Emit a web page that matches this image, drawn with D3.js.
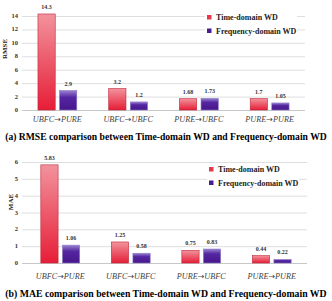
<!DOCTYPE html>
<html>
<head>
<meta charset="utf-8">
<script src="https://cdn.jsdelivr.net/npm/d3@7"></script>
<style>
  body { margin: 0; background: #fff; }
  svg { display: block; }
  text { font-family: "Liberation Serif", "DejaVu Serif", serif; }
</style>
</head>
<body>
<svg width="332" height="301"></svg>
<script>
var categories = [["UBFC", "PURE"], ["UBFC", "UBFC"], ["PURE", "UBFC"], ["PURE", "PURE"]];
var seriesNames = ["Time-domain WD", "Frequency-domain WD"];
var rmseTime = [14.3, 3.2, 1.68, 1.7];
var rmseFreq = [2.9, 1.2, 1.73, 1.05];
var maeTime = [5.83, 1.25, 0.75, 0.44];
var maeFreq = [1.06, 0.58, 0.83, 0.22];
var rmseTicks = [0, 2, 4, 6, 8, 10, 12, 14];
var maeTicks = [0, 1, 2, 3, 4, 5, 6];

var catKeys = categories.map(c => c.join("\u2192"));
var svg = d3.select("svg");

var defs = svg.append("defs");
var gr = defs.append("linearGradient").attr("id", "gRed").attr("x1", 0).attr("y1", 0).attr("x2", 0).attr("y2", 1);
gr.append("stop").attr("offset", "0%").attr("stop-color", "#f2939d");
gr.append("stop").attr("offset", "100%").attr("stop-color", "#e61e37");
var gp = defs.append("linearGradient").attr("id", "gPur").attr("x1", 0).attr("y1", 0).attr("x2", 0).attr("y2", 1);
gp.append("stop").attr("offset", "0%").attr("stop-color", "#9a82d2");
gp.append("stop").attr("offset", "35%").attr("stop-color", "#5426a0");
gp.append("stop").attr("offset", "100%").attr("stop-color", "#47168c");

function drawPanel(cfg) {
  var g = svg.append("g");
  var y = d3.scaleLinear().domain([0, cfg.max]).range([cfg.y0, cfg.y1]);
  var x = d3.scaleBand().domain(catKeys).range([cfg.x0, cfg.x1]);
  var sub = d3.scaleBand().domain(seriesNames).range([-20.5, 20.5]).paddingInner(0.2).paddingOuter(0.05);

  // gridlines
  g.selectAll("line.grid").data(cfg.ticks).enter().append("line")
    .attr("x1", 22).attr("x2", cfg.x1)
    .attr("y1", d => y(d) + 0.5).attr("y2", d => y(d) + 0.5)
    .attr("stroke", d => d === 0 ? "#c8c8c8" : "#dedede").attr("stroke-width", 1);

  g.selectAll("text.tick").data(cfg.ticks).enter().append("text")
    .attr("x", 18).attr("y", d => y(d) + 2)
    .attr("text-anchor", "end")
    .attr("font-weight", "bold").attr("font-size", 6.5)
    .attr("fill", "#333").text(d => d);

  g.append("text")
    .attr("transform", "translate(" + cfg.labelX + "," + cfg.labelY + ") rotate(-90)")
    .attr("text-anchor", "middle")
    .attr("font-weight", "bold").attr("font-size", 7)
    .attr("fill", "#222").text(cfg.label);

  var rows = [];
  catKeys.forEach((c, i) => {
    rows.push({ cat: c, s: seriesNames[0], v: cfg.time[i], fill: "url(#gRed)", stroke: "#c0283e" });
    rows.push({ cat: c, s: seriesNames[1], v: cfg.freq[i], fill: "url(#gPur)", stroke: "#8a78c4" });
  });

  g.selectAll("rect.bar").data(rows).enter().append("rect")
    .attr("x", d => x(d.cat) + x.bandwidth() / 2 + sub(d.s))
    .attr("y", d => y(d.v))
    .attr("width", sub.bandwidth())
    .attr("height", d => y(0) - y(d.v))
    .attr("fill", d => d.fill)
    .attr("stroke", d => d.stroke).attr("stroke-width", 0.6);

  g.selectAll("text.val").data(rows).enter().append("text")
    .attr("x", d => x(d.cat) + x.bandwidth() / 2 + sub(d.s) + sub.bandwidth() / 2)
    .attr("y", d => y(d.v) - 5)
    .attr("text-anchor", "middle")
    .attr("font-weight", "bold").attr("font-size", 6)
    .attr("fill", "#333").text(d => d.v);

  var cat = g.selectAll("text.cat").data(categories).enter().append("text")
    .attr("x", (d, i) => x(catKeys[i]) + x.bandwidth() / 2)
    .attr("y", cfg.catY)
    .attr("text-anchor", "middle")
    .attr("font-style", "italic").attr("font-size", 8.2)
    .attr("fill", "#444");
  cat.append("tspan").text(d => d[0]);
  cat.append("tspan").style("font-family", "'DejaVu Sans', sans-serif").style("font-style", "normal")
    .attr("font-size", 8).text("\u2192");
  cat.append("tspan").text(d => d[1]);

  // legend
  var lg = g.append("g").attr("transform", "translate(" + cfg.legX + "," + cfg.legY + ")");
  lg.append("rect").attr("x", -2).attr("y", -3).attr("width", 92).attr("height", 21).attr("fill", "#fff");
  seriesNames.forEach((s, i) => {
    lg.append("rect").attr("x", 0).attr("y", i * 13.5).attr("width", 4.5).attr("height", 4.5)
      .attr("fill", i === 0 ? "#e8364c" : "#4a1c92");
    lg.append("text").attr("x", 9).attr("y", i * 13.5 + 5)
      .attr("font-weight", "bold").attr("font-size", 8)
      .attr("fill", "#222").text(s);
  });

  // caption, font size fitted so that it spans ~324px
  var cap = svg.append("text")
    .attr("x", 166).attr("y", cfg.capY)
    .attr("text-anchor", "middle")
    .attr("font-weight", "bold").attr("font-size", 10)
    .attr("fill", "#000").text(cfg.caption);
  var w = cap.node().getComputedTextLength();
  cap.attr("font-size", 10 * 322 / w);
}

drawPanel({
  time: rmseTime, freq: rmseFreq, ticks: rmseTicks, max: 14,
  y0: 110, y1: 16, x0: 22, x1: 305,
  label: "RMSE", labelX: 7, labelY: 49, catY: 122,
  legX: 207, legY: 15,
  caption: "(a) RMSE comparison between Time-domain WD and Frequency-domain WD", capY: 140
});

drawPanel({
  time: maeTime, freq: maeFreq, ticks: maeTicks, max: 6,
  y0: 263, y1: 162, x0: 25, x1: 307,
  label: "MAE", labelX: 12.5, labelY: 202, catY: 279,
  legX: 209, legY: 167,
  caption: "(b) MAE comparison between Time-domain WD and Frequency-domain WD", capY: 297
});
</script>
</body>
</html>
